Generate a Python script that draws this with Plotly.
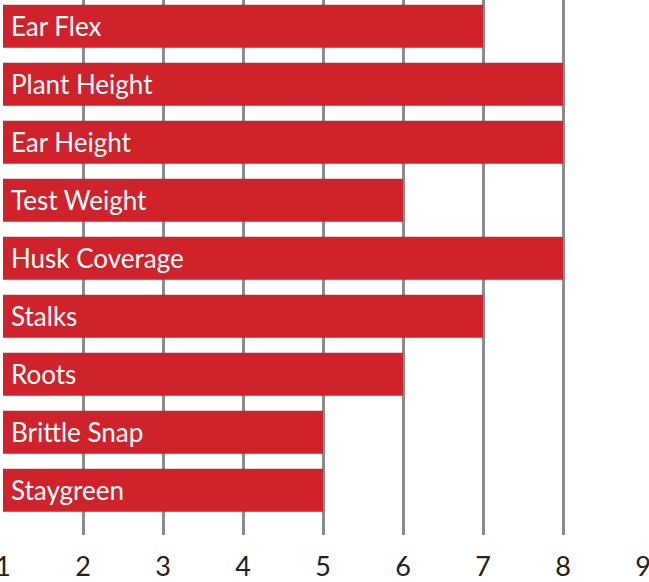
import plotly.graph_objects as go

categories = ["Ear Flex", "Plant Height", "Ear Height", "Test Weight", "Husk Coverage",
              "Stalks", "Roots", "Brittle Snap", "Staygreen"]
values = [7, 8, 8, 6, 8, 7, 6, 5, 5]
tick_vals = [1, 2, 3, 4, 5, 6, 7, 8, 9]
base_value = 1

idx = list(range(len(categories)))
fig = go.Figure()
fig.add_trace(go.Bar(
    y=idx, x=[v - base_value for v in values], base=base_value,
    orientation="h", marker=dict(color="#d0222b", line=dict(width=0)),
    hoverinfo="skip", width=0.74,
))
for i, c in zip(idx, categories):
    fig.add_annotation(x=base_value, y=i, text=c, xanchor="left", yanchor="middle",
                       xshift=6, showarrow=False,
                       font=dict(family="Lato", size=26, color="white"))

fig.update_layout(
    width=649, height=582, margin=dict(l=3, r=6, t=0, b=47),
    paper_bgcolor="white", plot_bgcolor="white", showlegend=False,
    xaxis=dict(range=[1, 9], tickvals=tick_vals, showgrid=True, gridcolor="#8c8c8c",
               gridwidth=2.5, zeroline=False, showline=False, ticks="",
               automargin=False, ticklabeloverflow="allow",
               tickfont=dict(family="Lato", size=27, color="#222222"),
               ticklabelstandoff=13),
    yaxis=dict(range=[8.77, -0.453], showticklabels=False, showgrid=False,
               zeroline=False, showline=False, automargin=False),
)
fig.write_html("out.html", config={"displayModeBar": False},
               post_script="document.body.style.margin='0';document.body.style.overflow='hidden';")
